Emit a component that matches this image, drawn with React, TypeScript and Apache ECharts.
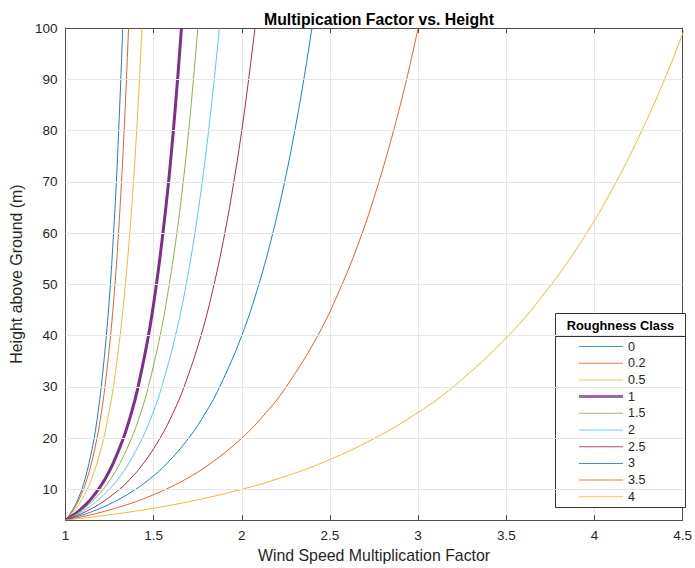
import React, { useEffect, useRef } from "react";
import * as echarts from "echarts";

const heights = [4, 5, 6, 7, 8, 10, 12, 15, 20, 25, 30, 40, 50, 60, 70, 80, 90, 100];
const roughnessClasses = ["0", "0.2", "0.5", "1", "1.5", "2", "2.5", "3", "3.5", "4"];

const factorClass0 = [1, 1.023, 1.041, 1.057, 1.07, 1.093, 1.111, 1.133, 1.163, 1.185, 1.203, 1.232, 1.255, 1.273, 1.289, 1.302, 1.314, 1.325];
const factorClass02 = [1, 1.025, 1.045, 1.062, 1.077, 1.102, 1.122, 1.147, 1.179, 1.204, 1.224, 1.256, 1.281, 1.301, 1.318, 1.333, 1.346, 1.358];
const factorClass05 = [1, 1.03, 1.055, 1.075, 1.093, 1.124, 1.148, 1.178, 1.217, 1.247, 1.272, 1.31, 1.34, 1.365, 1.386, 1.404, 1.42, 1.434];
const factorClass1 = [1, 1.046, 1.083, 1.114, 1.142, 1.187, 1.225, 1.27, 1.329, 1.375, 1.412, 1.471, 1.516, 1.553, 1.585, 1.612, 1.636, 1.658];
const factorClass15 = [1, 1.052, 1.095, 1.131, 1.162, 1.214, 1.256, 1.308, 1.375, 1.428, 1.47, 1.537, 1.589, 1.632, 1.668, 1.699, 1.726, 1.751];
const factorClass2 = [1, 1.06, 1.11, 1.152, 1.188, 1.248, 1.298, 1.358, 1.436, 1.497, 1.546, 1.624, 1.685, 1.734, 1.776, 1.812, 1.844, 1.873];
const factorClass25 = [1, 1.074, 1.135, 1.187, 1.231, 1.306, 1.367, 1.441, 1.537, 1.612, 1.673, 1.769, 1.843, 1.904, 1.955, 2.0, 2.039, 2.075];
const factorClass3 = [1, 1.097, 1.176, 1.243, 1.301, 1.398, 1.477, 1.574, 1.699, 1.796, 1.875, 2.0, 2.097, 2.176, 2.243, 2.301, 2.352, 2.398];
const factorClass35 = [1, 1.139, 1.252, 1.348, 1.431, 1.569, 1.683, 1.821, 2.0, 2.139, 2.252, 2.431, 2.569, 2.683, 2.778, 2.861, 2.935, 3.0];
const factorClass4 = [1, 1.243, 1.443, 1.611, 1.756, 2.0, 2.199, 2.443, 2.756, 3.0, 3.199, 3.513, 3.756, 3.956, 4.124, 4.269, 4.398, 4.513];

const allFactors = [
  factorClass0, factorClass02, factorClass05, factorClass1, factorClass15,
  factorClass2, factorClass25, factorClass3, factorClass35, factorClass4,
];

const yTickValues = [10, 20, 30, 40, 50, 60, 70, 80, 90, 100];

const colors = [
  "#0072BD", "#D95319", "#EDB120", "#7E2F8E", "#77AC30",
  "#4DBEEE", "#A2142F", "#0072BD", "#D95319", "#EDB120",
];

const FONT = "'Liberation Sans', Arial, Helvetica, sans-serif";

export default function App() {
  const ref = useRef<HTMLDivElement>(null);
  useEffect(() => {
    if (!ref.current) return;
    const chart = echarts.init(ref.current, null, { renderer: "svg" });
    const axisColor = "#4d4d4d";
    const gridColor = "#e6e6e6";
    const series: any[] = roughnessClasses.map((name, i) => ({
      name,
      type: "line",
      data: heights.map((h, j) => [allFactors[i][j], h]),
      showSymbol: false,
      symbol: "none",
      smooth: 0.4,
      clip: true,
      color: colors[i],
      lineStyle: { width: name === "1" ? 3 : 0.9, color: colors[i] },
      z: 2,
    }));
    series.push({
      type: "line",
      data: [],
      silent: true,
      markLine: {
        silent: true,
        symbol: "none",
        label: { show: false },
        lineStyle: { color: gridColor, width: 1, type: "solid" },
        data: yTickValues.slice(0, 9).map((v) => ({ yAxis: v })),
      },
      z: 1,
    });
    const legendData = roughnessClasses.map((name, i) => ({
      name,
      icon: name === "1" ? "path://M0,0 H44 V3 H0 Z" : "path://M0,0 H44 V1 H0 Z",
      itemStyle: { color: colors[i], opacity: 0.75 },
    }));
    chart.setOption({
      animation: false,
      textStyle: { fontFamily: FONT },
      title: {
        text: "Multipication Factor vs. Height",
        left: 374,
        textAlign: "center",
        top: 6,
        textStyle: { fontSize: 15.8, fontWeight: "bold", color: "#000", fontFamily: FONT },
      },
      grid: { left: 61, right: 9, top: 28, bottom: 47, containLabel: false },
      xAxis: [
        {
          type: "value",
          min: 1,
          max: 4.5,
          interval: 0.5,
          position: "bottom",
          name: "Wind Speed Multiplication Factor",
          nameLocation: "middle",
          nameGap: 26,
          nameTextStyle: { fontSize: 15.9, color: "#262626", fontFamily: FONT },
          axisLine: { show: true, onZero: false, lineStyle: { color: axisColor, width: 1 } },
          axisTick: { show: true, inside: true, length: 5, lineStyle: { color: axisColor } },
          axisLabel: { fontSize: 13.5, color: "#262626", margin: 8, fontFamily: FONT },
          splitLine: { show: true, lineStyle: { color: gridColor, width: 1 } },
        },
        {
          type: "value",
          min: 1,
          max: 4.5,
          interval: 0.5,
          position: "top",
          axisLine: { show: true, onZero: false, lineStyle: { color: axisColor, width: 1 } },
          axisTick: { show: true, inside: true, length: 5, lineStyle: { color: axisColor } },
          axisLabel: { show: false },
          splitLine: { show: false },
        },
      ],
      yAxis: [
        {
          type: "value",
          min: 4,
          max: 100,
          position: "left",
          name: "Height above Ground (m)",
          nameLocation: "middle",
          nameGap: 33,
          nameRotate: 90,
          nameTextStyle: { fontSize: 15.9, color: "#262626", fontFamily: FONT },
          axisLine: { show: true, onZero: false, lineStyle: { color: axisColor, width: 1 } },
          axisTick: { show: true, inside: true, length: 5, lineStyle: { color: axisColor }, customValues: yTickValues },
          axisLabel: { fontSize: 13.5, color: "#262626", margin: 8, fontFamily: FONT, customValues: yTickValues },
          splitLine: { show: false },
        },
        {
          type: "value",
          min: 4,
          max: 100,
          position: "right",
          axisLine: { show: true, onZero: false, lineStyle: { color: axisColor, width: 1 } },
          axisTick: { show: true, inside: true, length: 5, lineStyle: { color: axisColor }, customValues: yTickValues },
          axisLabel: { show: false, customValues: yTickValues },
          splitLine: { show: false },
        },
      ],
      legend: {
        data: legendData,
        orient: "vertical",
        left: 579,
        top: 340,
        itemWidth: 44,
        itemHeight: 12,
        itemGap: 3.7,
        textStyle: { fontSize: 12.5, color: "#262626", fontFamily: FONT },
        padding: 0,
        z: 5,
      },
      graphic: [
        {
          type: "rect",
          z: 4,
          shape: { x: 555.5, y: 313.5, width: 130, height: 194 },
          style: { fill: "#fff", stroke: "#333", lineWidth: 1 },
        },
        {
          type: "line",
          z: 4,
          shape: { x1: 555.5, y1: 336.5, x2: 685.5, y2: 336.5 },
          style: { stroke: "#333", lineWidth: 1 },
        },
        {
          type: "text",
          z: 4,
          x: 620.5,
          y: 325,
          style: {
            text: "Roughness Class",
            fontSize: 12.8,
            fontWeight: "bold",
            fill: "#000",
            fontFamily: FONT,
            align: "center",
            verticalAlign: "middle",
          },
        },
      ],
      series,
    });
    return () => chart.dispose();
  }, []);
  return <div ref={ref} style={{ width: 695, height: 568, position: "absolute", left: 0, top: 0 }} />;
}
